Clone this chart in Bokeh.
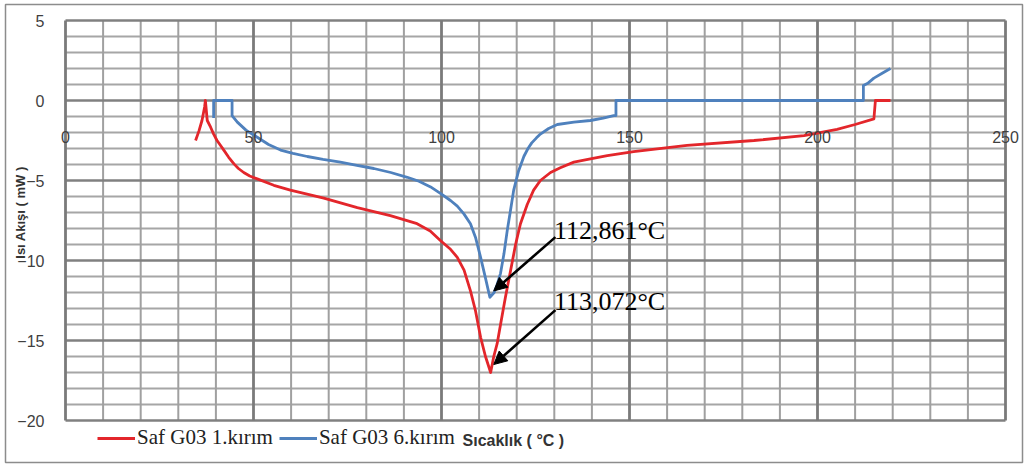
from math import pi

from bokeh.core.properties import value
from bokeh.embed import file_html
from bokeh.models import (Arrow, ColumnDataSource, FixedTicker, Label, Legend,
                          LegendItem, NormalHead, Range1d)
from bokeh.plotting import figure
from bokeh.resources import INLINE

# DSC heat-flow curves: temperature (°C) vs heat flow (mW)
run1_temp = [34.6, 35.5, 36.3, 37.0, 37.2, 37.7, 38.6, 39.4, 40.3, 41.2, 42.1, 43.4,
             44.8, 46.0, 47.4, 49.0, 51.0, 55.4, 59.8, 68.7, 77.6, 86.4, 93.5, 97.0,
             99.7, 102.4, 104.2, 106.0, 107.7, 109.0, 110.4, 111.7, 113.07, 113.9,
             114.8, 115.7, 117.0, 118.4, 119.7, 121.0, 122.8, 124.5, 126.3, 129.0,
             131.6, 135.2, 139.6, 144.1, 151.1, 165.3, 183.1, 196.4, 205.2, 210.0,
             215.0, 215.4, 219.4]
run1_flow = [-2.5, -1.9, -1.25, -0.4, 0.0, -1.25, -1.67, -2.1, -2.5, -2.8, -3.1, -3.55,
             -3.96, -4.25, -4.5, -4.72, -4.9, -5.3, -5.6, -6.1, -6.7, -7.2, -7.7, -8.15,
             -8.75, -9.3, -9.8, -10.6, -11.9, -13.1, -14.8, -16.0, -17.0, -16.0,
             -15.2, -14.0, -12.3, -10.6, -9.0, -7.7, -6.5, -5.6, -5.0, -4.5,
             -4.2, -3.85, -3.65, -3.44, -3.2, -2.8, -2.5, -2.2, -1.8, -1.5,
             -1.15, 0.0, 0.0]

run6_temp = [39.4, 39.4, 44.3, 44.3, 45.7, 48.0, 51.0, 54.0, 57.2, 60.5, 64.3, 68.5,
             73.1, 77.5, 82.0, 86.5, 90.9, 94.0, 97.1, 99.7, 102.4, 104.2, 106.0,
             107.7, 109.1, 110.4, 111.7, 112.86, 114.0, 114.8, 115.7, 116.6, 117.5,
             118.4, 119.2, 120.5, 121.9, 123.0, 124.0, 125.2, 126.3, 128.5, 130.8,
             135.2, 139.6, 143.0, 145.8, 146.4, 146.4, 212.2, 212.2, 213.5, 215.0,
             217.2, 219.4]
run6_flow = [-1.1, 0.0, 0.0, -0.94, -1.35, -1.85, -2.3, -2.75, -3.1, -3.3, -3.5, -3.68,
             -3.85, -4.05, -4.25, -4.5, -4.8, -5.05, -5.4, -5.8, -6.25, -6.6, -7.1,
             -7.7, -8.6, -9.8, -11.1, -12.3, -12.0, -11.5, -10.8, -9.6, -8.1,
             -6.8, -5.6, -4.4, -3.5, -3.0, -2.65, -2.35, -2.1, -1.75, -1.5,
             -1.35, -1.25, -1.1, -0.94, -0.94, 0.0, 0.0, 0.94, 1.1, 1.4,
             1.7, 2.0]

series_labels = ["Saf G03 1.kırım", "Saf G03 6.kırım"]
peak_labels = ["112,861°C", "113,072°C"]
x_ticks = [0, 50, 100, 150, 200, 250]
y_ticks = [-20, -15, -10, -5, 0, 5]
x_title = "Sıcaklık ( °C )"
y_title = "Isı Akışı ( mW )"

RED = "#e3262b"
BLUE = "#4f81bd"
TICK_FONT = "Liberation Sans"

p = figure(width=1028, height=468,
           x_range=Range1d(-15.957, 254.52), y_range=Range1d(-22.625, 6.0),
           output_backend="svg", toolbar_location=None,
           min_border_left=5, min_border_right=6, min_border_top=4,
           min_border_bottom=6)
p.background_fill_color = "white"
p.border_fill_color = "white"
p.outline_line_color = "#8c8c8c"
p.outline_line_width = 1.5
p.xgrid.visible = False
p.ygrid.visible = False

# grid: 1 mW rows, 10 °C columns, heavier every 5 mW / 50 °C
x0, x1 = x_ticks[0], x_ticks[-1]
y0, y1 = y_ticks[0], y_ticks[-1]
rows = list(range(y0, y1 + 1))
cols = list(range(x0, x1 + 1, 10))
minor_rows = [r for r in rows if r % 5]
major_rows = [r for r in rows if r % 5 == 0]
minor_cols = [c for c in cols if c % 50]
major_cols = [c for c in cols if c % 50 == 0]
p.segment(x0=[x0] * len(minor_rows), x1=[x1] * len(minor_rows), y0=minor_rows, y1=minor_rows,
          line_color="#a6a6a6", line_width=2)
p.segment(x0=minor_cols, x1=minor_cols, y0=[y0] * len(minor_cols), y1=[y1] * len(minor_cols),
          line_color="#a0a0a0", line_width=2)
p.segment(x0=[x0] * len(major_rows), x1=[x1] * len(major_rows), y0=major_rows, y1=major_rows,
          line_color="#808080", line_width=2.4)
p.segment(x0=major_cols, x1=major_cols, y0=[y0] * len(major_cols), y1=[y1] * len(major_cols),
          line_color="#7a7a7a", line_width=2.8)

# axes pinned at the origin, Excel style
xa = p.xaxis[0]
xa.fixed_location = 0
xa.ticker = FixedTicker(ticks=x_ticks)
ya = p.yaxis[0]
ya.fixed_location = 0
ya.ticker = FixedTicker(ticks=y_ticks)
for ax in (xa, ya):
    ax.axis_line_color = None
    ax.major_tick_line_color = None
    ax.minor_tick_line_color = None
    ax.major_label_text_font = TICK_FONT
    ax.major_label_text_font_size = "16px"
    ax.major_label_text_color = "#3f3f3f"
xa.major_label_standoff = 24
ya.major_label_standoff = 15

src1 = ColumnDataSource(dict(t=run1_temp, q=run1_flow))
src6 = ColumnDataSource(dict(t=run6_temp, q=run6_flow))
r1 = p.line("t", "q", source=src1, line_color=RED, line_width=2.8, line_join="round")
r6 = p.line("t", "q", source=src6, line_color=BLUE, line_width=2.8, line_join="round")

# peak call-outs
head = dict(size=13, fill_color="black", line_color="black")
p.add_layout(Arrow(end=NormalHead(**head), x_start=130.3, y_start=-8.54,
                   x_end=113.9, y_end=-11.9, line_width=2.6, line_color="black"))
p.add_layout(Arrow(end=NormalHead(**head), x_start=130.3, y_start=-13.1,
                   x_end=113.9, y_end=-16.5, line_width=2.6, line_color="black"))
for txt, ypos in zip(peak_labels, [-8.1, -12.55]):
    p.add_layout(Label(x=129.9, y=ypos, text=txt, text_font="Liberation Serif",
                       text_font_size="26px", text_color="black",
                       text_baseline="middle", text_align="left"))

# axis titles
p.add_layout(Label(x=105.6, y=-21.25, text=x_title, text_font=TICK_FONT,
                   text_font_size="16px", text_font_style="bold", text_color="#333333",
                   text_baseline="middle", text_align="left"))
p.add_layout(Label(x=-11.9, y=-7.0, text=y_title, text_font=TICK_FONT,
                   text_font_size="13px", text_font_style="bold", text_color="#333333",
                   text_baseline="middle", text_align="center", angle=pi / 2))

legend = Legend(items=[LegendItem(label=series_labels[0], renderers=[r1]),
                       LegendItem(label=series_labels[1], renderers=[r6])],
                orientation="horizontal", location=(92, 12),
                label_text_font="Liberation Serif", label_text_font_size="21px",
                label_text_color="#222222", glyph_width=38, glyph_height=20,
                label_standoff=2, spacing=6, padding=0, margin=0,
                border_line_color=None, background_fill_alpha=0)
p.add_layout(legend)

open("out.html", "w").write(file_html(p, INLINE))
